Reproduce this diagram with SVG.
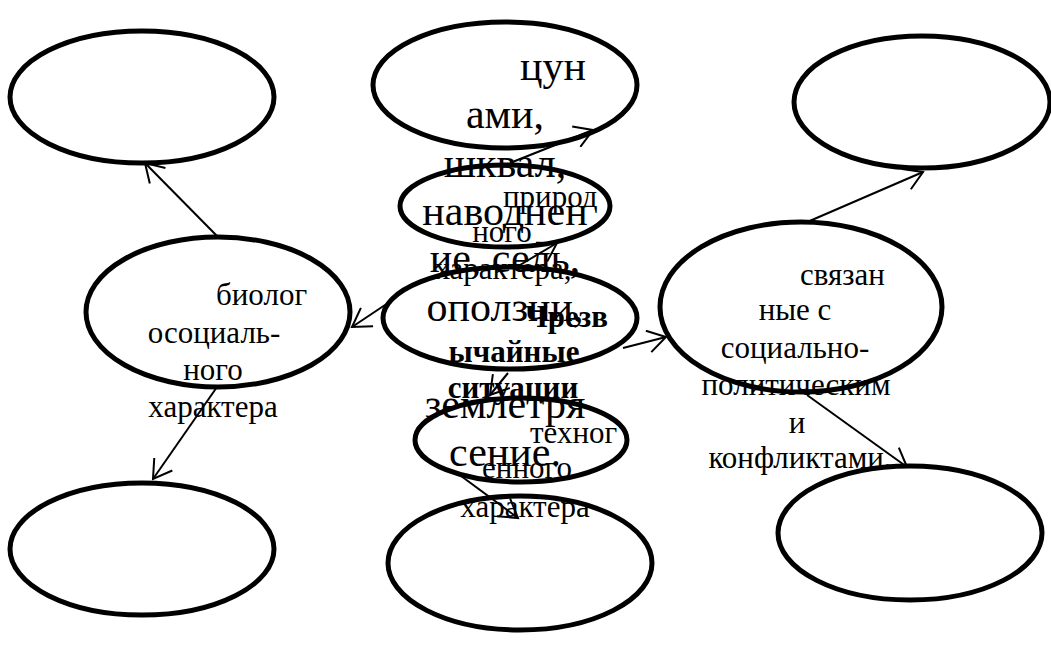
<svg xmlns="http://www.w3.org/2000/svg" width="1051" height="652" viewBox="0 0 1051 652">
<style>
.n{fill:none;stroke:#000;stroke-width:5}
.t{font-family:"Liberation Serif","Times New Roman",serif;fill:#000}
.big{font-size:42px}
.m{font-size:31px}
.b{font-size:31px;font-weight:bold}
.c{text-anchor:middle}
.e{stroke:#000;stroke-width:2;fill:none}
</style>
<defs>
<marker id="arr" markerUnits="userSpaceOnUse" markerWidth="24" markerHeight="24" viewBox="0 0 24 24" refX="20" refY="12" orient="auto">
<path d="M2 1 L20 12 L2 23" fill="none" stroke="#000" stroke-width="2"/>
</marker>
</defs>
<rect width="1051" height="652" fill="#fff"/>
<g id="connectors">
<line class="e" x1="217" y1="236" x2="145" y2="163" marker-end="url(#arr)"/>
<line class="e" x1="217" y1="387" x2="153" y2="479" marker-end="url(#arr)"/>
<line class="e" x1="388" y1="303" x2="352" y2="327" marker-end="url(#arr)"/>
<line class="e" x1="623" y1="348" x2="666" y2="337" marker-end="url(#arr)"/>
<line class="e" x1="520" y1="265" x2="557" y2="243" marker-end="url(#arr)"/>
<line class="e" x1="510" y1="163" x2="593" y2="130" marker-end="url(#arr)"/>
<line class="e" x1="508" y1="373" x2="490" y2="395" marker-end="url(#arr)"/>
<line class="e" x1="457" y1="473" x2="518" y2="518" marker-end="url(#arr)"/>
<line class="e" x1="805" y1="223" x2="923" y2="172" marker-end="url(#arr)"/>
<line class="e" x1="807" y1="395" x2="907" y2="467" marker-end="url(#arr)"/>
</g>
<g id="node-top-left"><ellipse class="n" cx="142" cy="97" rx="132" ry="66"/></g>
<g id="node-top-center">
<ellipse class="n" cx="505" cy="85" rx="132" ry="63"/>
<text class="t big" x="520" y="80">цун</text>
<text class="t big c" x="505" y="128">ами,</text>
<text class="t big c" x="505" y="177">шквал,</text>
<text class="t big c" x="505" y="225">наводнен</text>
<text class="t big c" x="505" y="272">ие, сель,</text>
<text class="t big c" x="505" y="321">оползни,</text>
<text class="t big c" x="505" y="418">землетря</text>
<text class="t big c" x="505" y="466">сение.</text>
</g>
<g id="node-natural">
<ellipse class="n" cx="505" cy="206" rx="105" ry="41"/>
<text class="t m" x="503" y="207">природ</text>
<text class="t m c" x="502" y="242">ного</text>
<text class="t m c" x="503" y="279">характера,</text>
</g>
<g id="node-center">
<ellipse class="n" cx="510" cy="318" rx="127" ry="51"/>
<text class="t b" x="525" y="327">Чрезв</text>
<text class="t b c" x="514" y="362">ычайные</text>
<text class="t b c" x="513" y="398">ситуации</text>
</g>
<g id="node-technogenic">
<ellipse class="n" cx="521" cy="440" rx="106" ry="42"/>
<text class="t m" x="530" y="443">техног</text>
<text class="t m c" x="527" y="478">енного</text>
<text class="t m c" x="525" y="517">характера</text>
</g>
<g id="node-bottom-center"><ellipse class="n" cx="520" cy="563" rx="132" ry="67"/></g>
<g id="node-top-right"><ellipse class="n" cx="922" cy="102" rx="128" ry="66"/></g>
<g id="node-social">
<ellipse class="n" cx="801" cy="307" rx="141" ry="85"/>
<text class="t m" x="800" y="285">связан</text>
<text class="t m c" x="795" y="320">ные с</text>
<text class="t m c" x="795" y="358">социально-</text>
<text class="t m c" x="796" y="395">политическим</text>
<text class="t m c" x="797" y="433">и</text>
<text class="t m c" x="800" y="468">конфликтами.</text>
</g>
<g id="node-bio">
<ellipse class="n" cx="218" cy="312" rx="132" ry="75"/>
<text class="t m" x="216" y="305">биолог</text>
<text class="t m c" x="214" y="343">осоциаль-</text>
<text class="t m c" x="213" y="380">ного</text>
<text class="t m c" x="213" y="417">характера</text>
</g>
<g id="node-bottom-left"><ellipse class="n" cx="142" cy="549" rx="132" ry="66"/></g>
<g id="node-bottom-right"><ellipse class="n" cx="910" cy="533" rx="132" ry="67"/></g>
</svg>
